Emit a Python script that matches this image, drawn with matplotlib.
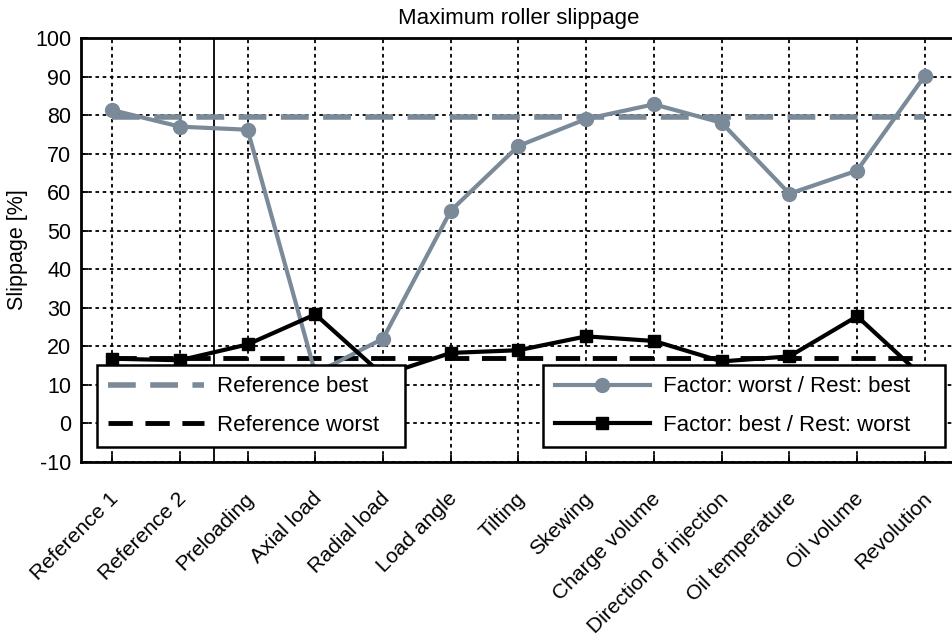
import matplotlib
matplotlib.use("Agg")
import matplotlib.pyplot as plt
import matplotlib.transforms as mtransforms
import numpy as np

plt.rcParams['font.family'] = ['Liberation Sans', 'DejaVu Sans']
plt.rcParams['axes.unicode_minus'] = False

categories = ["Reference 1", "Reference 2", "Preloading", "Axial load", "Radial load",
              "Load angle", "Tilting", "Skewing", "Charge volume", "Direction of injection",
              "Oil temperature", "Oil volume", "Revolution"]
worst_rest_best = [81.3, 77.0, 76.2, 13.0, 22.0, 55.2, 72.0, 79.0, 82.8, 78.0, 59.6, 65.6, 90.2]
best_rest_worst = [16.8, 16.4, 20.5, 28.3, 12.5, 18.3, 19.0, 22.6, 21.4, 16.1, 17.4, 27.8, 11.6]
reference_best = 79.6
reference_worst = 17.0
y_ticks = list(range(-10, 101, 10))

gray = '#7a8a99'

fig = plt.figure(figsize=(9.53, 6.40), dpi=100)
ax = fig.add_axes([81/953, 1 - 462/640, 875/953, 424/640])

x = np.arange(len(categories))

ax.plot([x[0], x[-1]], [reference_best, reference_best], color=gray, lw=4,
        linestyle=(0, (5, 2.6)), label='Reference best', zorder=3)
ax.plot([x[0], x[-1]], [reference_worst, reference_worst], color='black', lw=3.5,
        linestyle=(0, (5, 2.6)), label='Reference worst', zorder=3)
l1, = ax.plot(x, worst_rest_best, color=gray, lw=3, marker='o', markersize=10,
              label='Factor: worst / Rest: best', zorder=4)
l2, = ax.plot(x, best_rest_worst, color='black', lw=3, marker='s', markersize=9,
              label='Factor: best / Rest: worst', zorder=5)

ax.axvline(1.5, color='black', lw=1.3, zorder=2)

ax.set_xlim(-0.46, len(categories) - 1 + 0.46)
ax.set_ylim(-10, 100)
ax.set_yticks(y_ticks)
ax.set_xticks(x)
ax.set_xticklabels(categories, rotation=45, ha='right', rotation_mode='anchor', fontsize=15.2)
ax.tick_params(axis='y', labelsize=15.5, direction='in', length=5, width=1.3, pad=7)
ax.tick_params(axis='x', direction='in', length=5, width=1.3, pad=15)
offset = mtransforms.ScaledTranslation(-3/100, -6/100, fig.dpi_scale_trans)
for lbl in ax.get_xticklabels():
    lbl.set_transform(lbl.get_transform() + offset)
ax.grid(True, color='black', linestyle=(0, (2, 2)), lw=1.3, zorder=1)
for s in ax.spines.values():
    s.set_linewidth(2)

ax.set_ylabel('Slippage [%]', fontsize=15.5, labelpad=5)
ax.set_title('Maximum roller slippage', fontsize=16, pad=10)

h = ax.get_legend_handles_labels()[0]
common = dict(loc='lower left', mode='expand', borderaxespad=0, fontsize=16,
              handlelength=4.3, handletextpad=0.6, labelspacing=0.77, borderpad=0.52,
              fancybox=False, framealpha=1, edgecolor='black')
leg1 = ax.legend(handles=h[:2], bbox_to_anchor=(0.018, 0.035, 0.352, 0.193), **common)
leg1.get_frame().set_linewidth(1.8)
leg1.set_zorder(10)
ax.add_artist(leg1)
leg2 = ax.legend(handles=[l1, l2], bbox_to_anchor=(0.528, 0.035, 0.459, 0.193), **common)
leg2.get_frame().set_linewidth(1.8)
leg2.set_zorder(10)

fig.savefig('out.png', dpi=100)
